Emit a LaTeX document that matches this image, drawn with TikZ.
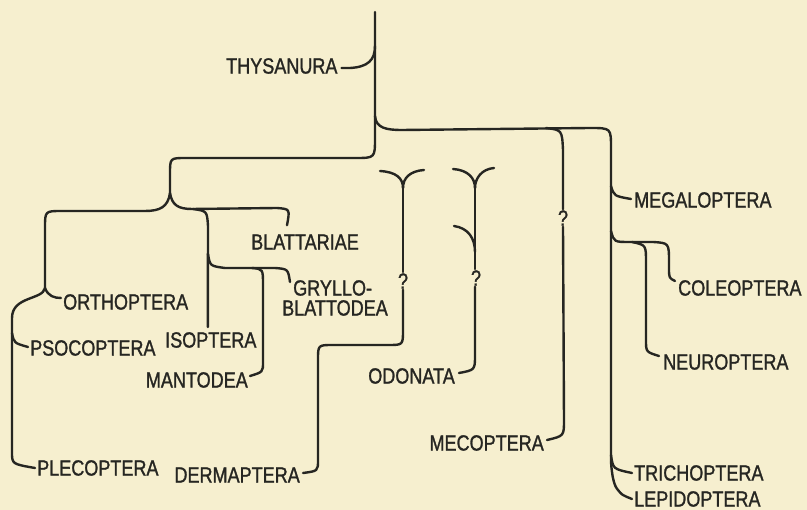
\documentclass[tikz,border=0pt]{standalone}
\usepackage{fontspec}
\setmainfont[FakeStretch=0.82,FakeBold=1.2]{Liberation Sans}
\definecolor{bg}{HTML}{F6EFCF}
\definecolor{ink}{HTML}{262622}
\begin{document}
\begin{tikzpicture}[x=1pt,y=-1pt,
  br/.style={draw=ink,line width=2.4pt,line cap=round,line join=round},
  lab/.style={inner sep=0pt,font=\fontsize{22}{24}\selectfont,text=ink},
  qm/.style={inner sep=1pt,font=\fontsize{22}{24}\selectfont,text=ink}]
\fill[bg] (0,0) rectangle (807,510);
\useasboundingbox (0,0) rectangle (807,510);
% labels
\node[lab,anchor=west] (thys) at (226,66) {THYSANURA};
\node[lab,anchor=west] (ortho) at (63,302) {ORTHOPTERA};
\node[lab,anchor=west] (psoco) at (30,348) {PSOCOPTERA};
\node[lab,anchor=west] (pleco) at (37,468) {PLECOPTERA};
\node[lab,anchor=west] (blatt) at (251,242) {BLATTARIAE};
\node[lab,anchor=west] (iso) at (165,340) {ISOPTERA};
\node[lab,anchor=east] (mant) at (248,380) {MANTODEA};
\node[lab,anchor=west] (gryl) at (293,288) {GRYLLO-};
\node[lab,anchor=west] (blto) at (282,308) {BLATTODEA};
\node[lab,anchor=east] (derm) at (300,475) {DERMAPTERA};
\node[lab,anchor=east] (odon) at (455,376) {ODONATA};
\node[lab,anchor=east] (meco) at (544,443) {MECOPTERA};
\node[lab,anchor=west] (mega) at (634,200) {MEGALOPTERA};
\node[lab,anchor=west] (coleo) at (678,288) {COLEOPTERA};
\node[lab,anchor=west] (neuro) at (663,362) {NEUROPTERA};
\node[lab,anchor=west] (trich) at (634,473) {TRICHOPTERA};
\node[lab,anchor=west] (lepi) at (634,499) {LEPIDOPTERA};
\node[qm] (q1) at (403,281) {?};
\node[qm] (q2) at (476,278) {?};
\node[qm] (q3) at (563,218) {?};
% junctions
\coordinate (top) at (375,12);
\coordinate (jA) at (375,116);
\coordinate (jL) at (170,193);
\coordinate (jO) at (45,288);
\coordinate (y1) at (403,188);
\coordinate (y2) at (475,188);
% trunk and left main branch
\draw[br] (top) -- (375,138) .. controls (375,158) .. (355,158) -- (186,158) .. controls (170,158) .. (170,174) -- (jL);
\draw[br] ([shift={(4,2)}]thys.east) -- (350,68) .. controls (368,67) and (375,60) .. (375,46);
% right main branch
\draw[br] (jA) .. controls (376,128) and (386,130) .. (402,130) -- (590,128) .. controls (611,128) .. (611,148) -- (611,462);
\draw[br] (546,128) .. controls (562,130) .. (563,150) -- (q3.north);
\draw[br] (q3.south) -- (564,420) .. controls (564,436) .. ([shift={(3,-3)}]meco.east);
\draw[br] (611,186) .. controls (614,196) .. ([shift={(-3,-1)}]mega.west);
\draw[br] (611,231) .. controls (614,242) .. (630,242) -- (653,242) .. controls (669,243) .. (669,262) -- (669,268) .. controls (669,278) .. ([shift={(-3,-7)}]coleo.west);
\draw[br] (632,242) .. controls (646,245) .. (646,262) -- (646,340) .. controls (646,352) .. ([shift={(-4,-6)}]neuro.west);
\draw[br] (611,455) .. controls (613,469) .. ([shift={(-2,0)}]trich.west);
\draw[br] (611,462) .. controls (612,476) and (614,486) .. (618,490) .. controls (622,495) .. ([shift={(-2,0)}]lepi.west);
% Y1 and dermaptera
\draw[br] (380,171) .. controls (396,172) and (403,178) .. (y1);
\draw[br] (424,170) .. controls (410,171) and (403,178) .. (y1);
\draw[br] (y1) -- (q1.north);
\draw[br] (q1.south) -- (403,330) .. controls (403,345) .. (388,345) -- (333,345) .. controls (318,345) .. (318,360) -- (318,460) .. controls (318,471) .. ([shift={(3,-2)}]derm.east);
% Y2 and odonata
\draw[br] (453,169) .. controls (468,170) and (475,178) .. (y2);
\draw[br] (494,168) .. controls (482,169) and (475,178) .. (y2);
\draw[br] (454,226) .. controls (468,228) and (475,238) .. (475,252);
\draw[br] (y2) -- ([xshift=-1pt]q2.north);
\draw[br] ([xshift=-1pt]q2.south) -- (475,355) .. controls (475,370) .. ([shift={(4,-3)}]odon.east);
% left subtree
\draw[br] (jL) .. controls (168,207) and (160,211) .. (145,211) -- (62,211) .. controls (45,211) .. (45,228) -- (jO);
\draw[br] (jO) .. controls (48,296) and (54,298) .. ([shift={(-2,-4)}]ortho.west);
\draw[br] (jO) .. controls (43,300) and (12,296) .. (12,318) -- (12,452) .. controls (12,464) .. ([xshift=-2pt]pleco.west);
\draw[br] (12,333) .. controls (14,343) .. ([shift={(-2,-1)}]psoco.west);
\draw[br] (jL) .. controls (172,205) and (178,209) .. (192,209) -- (277,208) .. controls (290,209) .. ([shift={(-18,-9)}]blatt.north);
\draw[br] (193,209) .. controls (207,211) .. (208,226) -- ([shift={(-3,-5)}]iso.north);
\draw[br] (208,254) .. controls (210,266) .. (225,268) -- (275,268) .. controls (288,269) .. ([shift={(-3,-6)}]gryl.west);
\draw[br] (252,268) .. controls (263,269) .. (263,285) -- (263,362) .. controls (263,372) .. ([shift={(2,-4)}]mant.east);
\end{tikzpicture}
\end{document}
